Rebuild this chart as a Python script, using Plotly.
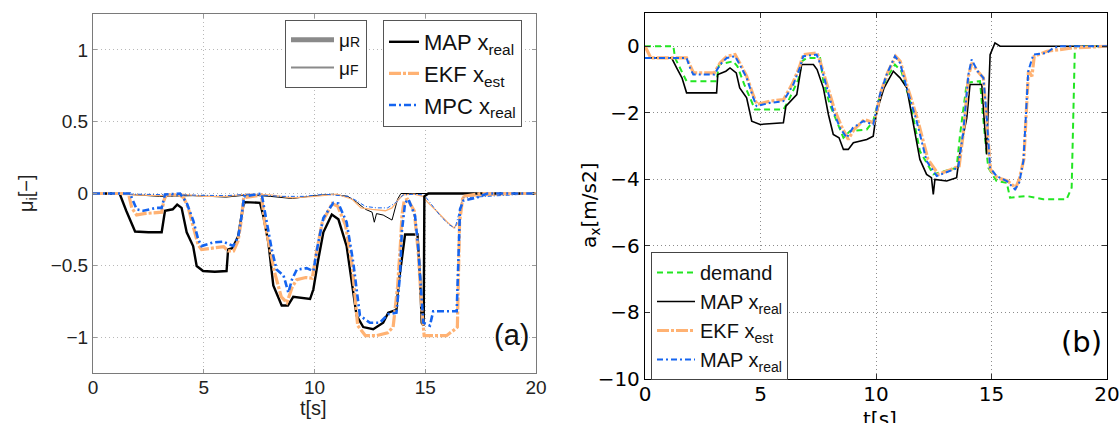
import plotly.graph_objects as go

# ---------------- Left panel (a): friction coefficients ----------------
t_map_R = [0, 1.2, 1.5, 1.9, 2.5, 3.1, 3.25, 3.6, 3.8, 4.0, 4.23, 4.52, 4.68, 4.97, 5.5, 6.03, 6.1, 6.3, 6.55, 6.78,
           6.85, 7.54, 7.69, 7.92, 8.14, 8.52, 8.8, 9.04, 9.8, 9.95, 10.17, 10.4, 10.78, 11.08, 11.45, 11.9, 12.2,
           12.65, 13.1, 13.33, 13.7, 13.8, 13.94, 14.09, 14.65, 14.77, 14.84, 14.93, 14.96, 15.14, 20]
mu_map_R = [0, 0, -0.12, -0.265, -0.27, -0.27, -0.12, -0.11, -0.077, -0.1, -0.27, -0.366, -0.505, -0.54, -0.545,
            -0.54, -0.39, -0.38, -0.3, -0.088, -0.06, -0.065, -0.157, -0.343, -0.64, -0.78, -0.78, -0.72, -0.735,
            -0.667, -0.46, -0.27, -0.146, -0.18, -0.366, -0.85, -0.93, -0.945, -0.9, -0.83, -0.81, -0.62, -0.46,
            -0.285, -0.285, -0.6, -0.9, -0.92, -0.02, 0, 0]

t_ekf_R = [0, 1.6, 1.75, 1.97, 2.3, 2.87, 3.1, 3.2, 3.3, 3.9, 4.1, 4.3, 4.55, 4.75, 4.9, 5.4, 5.9, 6.1, 6.35, 6.55,
           6.7, 6.8, 7.6, 7.75, 7.95, 8.2, 8.5, 8.75, 9.0, 9.2, 9.6, 9.9, 10.1, 10.35, 10.8, 11.05, 11.4, 11.7, 11.95,
           12.3, 12.8, 13.3, 13.55, 13.75, 13.88, 13.95, 14.05, 14.2, 14.5, 14.68, 14.85, 14.95, 15.5, 15.96, 16.3,
           16.45, 16.55, 16.7, 17.5, 20]
mu_ekf_R = [0, 0, -0.1, -0.15, -0.14, -0.13, -0.13, -0.05, -0.01, -0.01, -0.03, -0.1, -0.25, -0.36, -0.39, -0.38,
            -0.37, -0.4, -0.4, -0.33, -0.18, -0.03, -0.01, -0.2, -0.36, -0.55, -0.72, -0.76, -0.65, -0.6, -0.585,
            -0.59, -0.4, -0.2, -0.07, -0.09, -0.22, -0.5, -0.92, -0.99, -0.99, -0.97, -0.93, -0.65, -0.35, -0.15,
            -0.05, -0.04, -0.12, -0.4, -0.82, -0.99, -0.99, -0.99, -0.95, -0.93, -0.2, -0.02, 0, 0]

t_mpc_R = [0, 1.67, 1.97, 2.27, 2.87, 3.1, 3.25, 3.93, 4.23, 4.53, 4.75, 4.9, 5.43, 5.88, 6.33, 6.56, 6.71, 6.82,
           7.61, 7.84, 8.07, 8.29, 8.6, 8.82, 8.98, 9.2, 9.64, 9.95, 10.17, 10.4, 10.85, 11.08, 11.45, 11.75, 12.05,
           12.5, 12.95, 13.33, 13.7, 13.86, 13.94, 14.09, 14.24, 14.54, 14.69, 14.84, 14.91, 15.21, 15.36, 16.42,
           16.5, 16.57, 16.72, 17.32, 17.8, 20]
mu_mpc_R = [0, 0, -0.11, -0.12, -0.1, -0.1, -0.007, 0, -0.065, -0.19, -0.32, -0.366, -0.34, -0.335, -0.366, -0.3,
            -0.157, -0.02, 0, -0.2, -0.39, -0.53, -0.57, -0.69, -0.6, -0.53, -0.52, -0.54, -0.34, -0.17, -0.065,
            -0.07, -0.2, -0.48, -0.85, -0.9, -0.9, -0.84, -0.83, -0.57, -0.27, -0.065, -0.04, -0.157, -0.39, -0.74,
            -0.9, -0.92, -0.82, -0.82, -0.39, -0.11, -0.05, -0.03, 0, 0]

t_map_F = [0, 1.5, 3, 4.5, 6, 7, 8, 9, 10, 10.8, 11.5, 11.9, 12.3, 12.6, 12.7, 12.8, 13.1, 13.5, 13.75, 13.9, 14.3,
           14.9, 15.2, 20]
mu_map_F = [0, -0.005, -0.02, -0.015, -0.025, -0.01, -0.02, -0.035, -0.015, -0.005, -0.02, -0.06, -0.11, -0.13,
            -0.2, -0.14, -0.15, -0.185, -0.04, 0, 0, 0, 0, 0]

t_ekf_F = [0, 1.5, 3, 4, 5, 6, 7, 8, 9, 10, 11, 11.7, 12.1, 12.6, 13.2, 13.5, 13.8, 14.0, 14.5, 14.9, 15.1, 15.5,
           16.0, 16.3, 16.5, 16.7, 20]
mu_ekf_F = [0, -0.01, -0.015, -0.005, -0.02, -0.02, -0.005, -0.01, -0.03, -0.02, -0.005, -0.04, -0.1, -0.11, -0.12,
            -0.1, -0.04, -0.01, -0.005, -0.02, -0.06, -0.12, -0.2, -0.24, -0.2, -0.02, 0]

t_mpc_F = [0, 2, 3.5, 4.5, 6, 7, 8.5, 9.5, 10.5, 11.5, 11.9, 12.3, 12.8, 13.3, 13.7, 14.0, 14.5, 14.95, 15.3, 15.7,
           16.1, 16.35, 16.5, 16.7, 20]
mu_mpc_F = [0, -0.005, -0.01, -0.01, -0.015, -0.005, -0.02, -0.02, -0.005, -0.02, -0.05, -0.09, -0.1, -0.1, -0.06,
            -0.01, -0.005, -0.01, -0.08, -0.16, -0.22, -0.24, -0.15, -0.03, 0]

# ---------------- Right panel (b): longitudinal acceleration ----------------
t_dem = [0, 1.23, 1.3, 1.6, 1.8, 3.1, 3.2, 3.82, 4.0, 4.3, 4.76, 5.99, 6.2, 6.64, 6.8, 7.0, 7.58, 7.72, 8.0, 8.3,
         8.59, 8.87, 9.6, 9.88, 10.1, 10.46, 10.82, 11.1, 11.47, 11.9, 12.48, 13.49, 13.64, 13.93, 14.5, 14.72,
         14.86, 15.22, 15.66, 15.8, 16.52, 17.24, 18.25, 18.47, 18.61, 20]
a_dem = [0, 0, -0.35, -0.75, -1.05, -1.05, -0.55, -0.45, -0.6, -1.15, -1.9, -1.9, -1.65, -1.0, -0.45, -0.35, -0.35,
         -1.05, -1.75, -2.25, -2.75, -2.55, -2.5, -2.25, -1.65, -0.95, -0.55, -0.75, -1.65, -3.15, -3.85, -3.65,
         -2.65, -1.1, -1.05, -2.75, -3.65, -4.05, -4.1, -4.55, -4.5, -4.6, -4.6, -4.25, 0, 0]

t_map_a = [0, 1.15, 1.37, 1.6, 1.8, 3.1, 3.15, 3.5, 3.68, 3.95, 4.1, 4.4, 4.62, 4.98, 5.99, 6.1, 6.57, 6.7, 6.78,
           7.29, 7.45, 7.72, 7.94, 8.15, 8.4, 8.59, 8.8, 9.02, 9.6, 9.88, 10.0, 10.17, 10.35, 10.75, 11.04, 11.33,
           11.62, 11.9, 12.19, 12.4, 12.48, 12.55, 13.06, 13.49, 13.64, 13.93, 14.07, 14.58, 14.72, 14.79, 14.86,
           14.94, 15.15, 15.37, 20]
a_map = [-0.35, -0.35, -0.65, -0.95, -1.4, -1.4, -0.85, -0.75, -0.65, -0.8, -1.25, -1.55, -2.25, -2.35, -2.3, -1.8,
         -1.45, -0.95, -0.55, -0.55, -0.7, -1.25, -2.05, -2.65, -2.75, -3.1, -3.1, -2.9, -2.8, -2.7, -2.1, -1.65,
         -1.25, -0.75, -0.95, -1.25, -2.4, -3.4, -3.85, -3.95, -4.45, -4.0, -4.05, -3.95, -3.15, -2.15, -1.15,
         -1.15, -2.55, -3.25, -1.75, -0.25, 0.1, 0, 0]

t_ekf_a = [0, 0.25, 1.8, 1.95, 2.1, 3.0, 3.25, 3.55, 3.9, 4.1, 4.4, 4.7, 4.85, 5.4, 6.0, 6.4, 6.7, 6.85, 7.45, 7.6,
           7.9, 8.2, 8.5, 8.8, 9.05, 9.5, 9.9, 10.05, 10.2, 10.5, 10.85, 11.05, 11.35, 11.8, 12.25, 12.7, 13.25,
           13.6, 13.8, 14.0, 14.15, 14.4, 14.65, 14.8, 14.95, 15.25, 15.7, 16.05, 16.2, 16.4, 16.5, 16.6, 16.75,
           16.85, 17.4, 18.5, 20]
a_ekf = [0, -0.35, -0.35, -0.6, -0.8, -0.8, -0.5, -0.3, -0.25, -0.5, -0.9, -1.5, -1.75, -1.65, -1.6, -1.1, -0.6,
         -0.25, -0.2, -0.5, -1.2, -1.9, -2.4, -2.8, -2.5, -2.2, -2.3, -1.9, -1.4, -0.8, -0.3, -0.45, -1.2, -2.2,
         -3.4, -3.85, -3.7, -3.6, -2.5, -0.9, -0.5, -0.75, -0.95, -2.3, -3.7, -3.95, -4.05, -4.25, -4.0, -3.4,
         -1.8, -0.75, -0.9, -0.3, -0.15, -0.05, 0]

t_mpc_a = [0, 1.8, 1.95, 2.09, 3.0, 3.25, 3.54, 3.9, 4.1, 4.4, 4.69, 4.83, 5.41, 5.99, 6.42, 6.7, 6.85, 7.43, 7.6,
           7.86, 8.15, 8.44, 8.73, 9.0, 9.45, 9.88, 10.0, 10.17, 10.46, 10.82, 11.04, 11.33, 11.76, 12.19, 12.63,
           13.2, 13.56, 13.78, 14.0, 14.14, 14.4, 14.65, 14.8, 14.94, 15.22, 15.66, 16.02, 16.2, 16.38, 16.48,
           16.59, 16.81, 17.39, 17.67, 18.0, 20]
a_mpc = [-0.35, -0.35, -0.65, -0.85, -0.85, -0.55, -0.35, -0.3, -0.55, -0.95, -1.55, -1.8, -1.7, -1.65, -1.15,
         -0.65, -0.3, -0.25, -0.55, -1.25, -1.95, -2.45, -2.75, -2.45, -2.25, -2.35, -1.95, -1.45, -0.85, -0.3,
         -0.5, -1.25, -2.25, -3.45, -3.9, -3.75, -3.65, -2.55, -0.85, -0.4, -0.75, -0.95, -2.2, -3.65, -3.9,
         -4.05, -4.3, -4.1, -3.45, -2.2, -0.75, -0.25, -0.2, -0.05, 0, 0]

x_ticks = [0, 5, 10, 15, 20]
y_ticks_left = [-1, -0.5, 0, 0.5, 1]
y_ticks_right = [-10, -8, -6, -4, -2, 0]

BLACK = "#000000"
ORANGE = "#FFB273"
BLUE = "#1464F0"
GREEN = "#22E622"
GRAY = "#8a8a8a"
ARIAL = "Liberation Sans, Arial, sans-serif"
DEJAVU = "DejaVu Sans, sans-serif"

W, H = 1120, 423

fig = go.Figure()

# thin (front) lines
fig.add_trace(go.Scatter(x=t_map_F, y=mu_map_F, mode="lines", line=dict(color=BLACK, width=1),
                         showlegend=False, xaxis="x", yaxis="y"))
fig.add_trace(go.Scatter(x=t_ekf_F, y=mu_ekf_F, mode="lines", line=dict(color=ORANGE, width=1.3),
                         showlegend=False, xaxis="x", yaxis="y"))
fig.add_trace(go.Scatter(x=t_mpc_F, y=mu_mpc_F, mode="lines", line=dict(color=BLUE, width=1, dash="4px,2px,1px,2px"),
                         showlegend=False, xaxis="x", yaxis="y"))
# thick (rear) lines
fig.add_trace(go.Scatter(x=t_map_R, y=mu_map_R, mode="lines", line=dict(color=BLACK, width=2.4),
                         name="MAP x<sub>real</sub>", legend="legend2", xaxis="x", yaxis="y"))
fig.add_trace(go.Scatter(x=t_ekf_R, y=mu_ekf_R, mode="lines", line=dict(color=ORANGE, width=3.2, dash="12px,2px,3px,2px"),
                         name="EKF x<sub>est</sub>", legend="legend2", xaxis="x", yaxis="y"))
fig.add_trace(go.Scatter(x=t_mpc_R, y=mu_mpc_R, mode="lines", line=dict(color=BLUE, width=2.6, dash="7px,3px,2px,3px"),
                         name="MPC x<sub>real</sub>", legend="legend2", xaxis="x", yaxis="y"))
# legend-only entries for line thickness meaning
fig.add_trace(go.Scatter(x=[None], y=[None], mode="lines", line=dict(color=GRAY, width=5),
                         name="μ<span style='font-size:14px'>R</span>", legend="legend",
                         xaxis="x", yaxis="y"))
fig.add_trace(go.Scatter(x=[None], y=[None], mode="lines", line=dict(color=GRAY, width=2),
                         name="μ<span style='font-size:14px'>F</span>", legend="legend",
                         xaxis="x", yaxis="y"))

# right panel
fig.add_trace(go.Scatter(x=t_dem, y=a_dem, mode="lines", line=dict(color=GREEN, width=2, dash="6px,4px"),
                         name="demand", legend="legend3", xaxis="x2", yaxis="y2"))
fig.add_trace(go.Scatter(x=t_map_a, y=a_map, mode="lines", line=dict(color=BLACK, width=1.6),
                         name="MAP x<sub>real</sub>", legend="legend3", xaxis="x2", yaxis="y2"))
fig.add_trace(go.Scatter(x=t_ekf_a, y=a_ekf, mode="lines", line=dict(color=ORANGE, width=3.2, dash="12px,2px,3px,2px"),
                         name="EKF x<sub>est</sub>", legend="legend3", xaxis="x2", yaxis="y2"))
fig.add_trace(go.Scatter(x=t_mpc_a, y=a_mpc, mode="lines", line=dict(color=BLUE, width=2, dash="6px,3px,2px,3px"),
                         name="MAP x<sub>real</sub>", legend="legend3", xaxis="x2", yaxis="y2"))

axis_left = dict(showline=True, linecolor="#7a7a7a", linewidth=1, mirror="ticks", ticks="inside", ticklen=4,
                 tickcolor="#9a9a9a", showgrid=True, gridcolor="#b8b8b8", griddash="1px,3px", gridwidth=1,
                 zeroline=False, automargin=False, tickfont=dict(family=ARIAL, size=19, color="#222"))
axis_right = dict(showline=True, linecolor="#000", linewidth=1.3, mirror="ticks", ticks="inside", ticklen=5,
                  tickcolor="#333", showgrid=True, gridcolor="#8c8c8c", griddash="1px,3px", gridwidth=1,
                  zeroline=False, automargin=False, tickfont=dict(family=DEJAVU, size=20, color="#000"))

legend_common = dict(bgcolor="white", borderwidth=1, tracegroupgap=0, xanchor="left", yanchor="top",
                     itemclick=False, itemdoubleclick=False)


def px_x(v):
    return v / W


def px_y(v):
    return 1 - v / H


annotations = [
    dict(text="μ<sub>i</sub>[−]", x=px_x(27), y=px_y(194), textangle=-90,
         font=dict(family=ARIAL, size=20, color="#222")),
    dict(text="t[s]", x=px_x(313), y=px_y(408), font=dict(family=ARIAL, size=20, color="#222")),
    dict(text="(a)", x=px_x(511), y=px_y(335), font=dict(family=ARIAL, size=29, color="#111")),
    dict(text="a<sub>x</sub>[m/s2]", x=px_x(590), y=px_y(205), textangle=-90,
         font=dict(family=DEJAVU, size=20, color="#000")),
    dict(text="t[s]", x=px_x(880), y=px_y(419), font=dict(family=DEJAVU, size=20, color="#000")),
    dict(text="(b)", x=px_x(1081), y=px_y(342), font=dict(family=DEJAVU, size=29, color="#000")),
]
for a in annotations:
    a.update(xref="paper", yref="paper", showarrow=False, xanchor="center", yanchor="middle")

fig.update_layout(
    width=W, height=H, margin=dict(l=0, r=0, t=0, b=0), autosize=False,
    paper_bgcolor="white", plot_bgcolor="white",
    xaxis=dict(domain=[px_x(93), px_x(536)], range=[0, 20], tickvals=x_ticks, anchor="y",
               ticklabelstandoff=-3, **axis_left),
    yaxis=dict(domain=[px_y(373), px_y(14)], range=[-1.25, 1.25], tickvals=y_ticks_left, anchor="x", **axis_left),
    xaxis2=dict(domain=[px_x(645), px_x(1107)], range=[0, 20], tickvals=x_ticks, anchor="y2",
                ticklabelstandoff=-3, **axis_right),
    yaxis2=dict(domain=[px_y(379), px_y(13)], range=[-10, 1], tickvals=y_ticks_right, anchor="x2", **axis_right),
    legend=dict(x=px_x(285), y=px_y(20), bordercolor="#555", itemwidth=43,
                font=dict(family=ARIAL, size=19, color="#111"), **legend_common),
    legend2=dict(x=px_x(383), y=px_y(20), bordercolor="#555", font=dict(family=ARIAL, size=22, color="#111"),
                 **legend_common),
    legend3=dict(x=px_x(651), y=px_y(252), bordercolor="#444", itemwidth=38,
                 font=dict(family=ARIAL, size=20, color="#111"), **legend_common),
    annotations=annotations,
)

fig.write_html("out.html")
